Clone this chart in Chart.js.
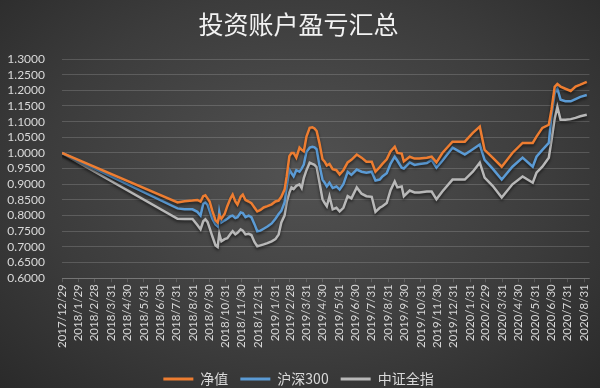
<!DOCTYPE html>
<html>
<head>
<meta charset="utf-8">
<script src="https://cdn.jsdelivr.net/npm/chart.js@4/dist/chart.umd.min.js"></script>
<style>
  html, body { margin: 0; padding: 0; }
  body {
    width: 600px; height: 388px; overflow: hidden;
    background: radial-gradient(ellipse at 50% 45%, #525252 0%, #3c3c3c 60%, #2a2a2a 100%);
  }
  #wrap { width: 600px; height: 388px; }
</style>
</head>
<body>
<div id="wrap"><canvas id="chart" width="600" height="388"></canvas></div>
<script>
// data
var dates = [
  '2017/12/29','2018/8/2','2018/8/15','2018/8/30','2018/9/8','2018/9/14','2018/9/19','2018/9/23','2018/9/27','2018/10/1',
  '2018/10/6','2018/10/12','2018/10/16','2018/10/19','2018/10/23','2018/10/29','2018/11/3','2018/11/9','2018/11/13','2018/11/18',
  '2018/11/22','2018/11/28','2018/12/2','2018/12/7','2018/12/13','2018/12/18','2018/12/24','2018/12/29','2019/1/4','2019/1/10',
  '2019/1/17','2019/1/25','2019/2/1','2019/2/7','2019/2/12','2019/2/18','2019/2/22','2019/2/27','2019/3/3','2019/3/7',
  '2019/3/12','2019/3/18','2019/3/22','2019/3/26','2019/3/31','2019/4/6','2019/4/11','2019/4/15','2019/4/19','2019/4/24',
  '2019/4/30','2019/5/4','2019/5/8','2019/5/13','2019/5/19','2019/5/26','2019/6/1','2019/6/8','2019/6/16','2019/6/23',
  '2019/7/3','2019/7/12','2019/7/21','2019/7/31','2019/8/7','2019/8/15','2019/8/20','2019/8/28','2019/9/4','2019/9/12',
  '2019/9/17','2019/9/25','2019/9/29','2019/10/10','2019/10/19','2019/10/28','2019/11/11','2019/11/20','2019/11/29','2019/12/10',
  '2019/12/29','2020/1/21','2020/2/5','2020/2/18','2020/2/27','2020/3/13','2020/3/30','2020/4/19','2020/5/8','2020/5/27',
  '2020/6/3','2020/6/14','2020/6/26','2020/7/1','2020/7/7','2020/7/12','2020/7/18','2020/7/27','2020/8/6','2020/8/15',
  '2020/8/24','2020/9/5'
];

var navValues = [
  1.000, 0.842, 0.846, 0.848, 0.850, 0.845, 0.862, 0.865, 0.855, 0.845,
  0.815, 0.785, 0.778, 0.800, 0.790, 0.805, 0.830, 0.855, 0.867, 0.845,
  0.835, 0.860, 0.867, 0.850, 0.845, 0.840, 0.825, 0.813, 0.818, 0.826,
  0.830, 0.836, 0.845, 0.848, 0.860, 0.883, 0.925, 0.990, 1.000, 1.000,
  0.985, 1.017, 1.010, 1.005, 1.052, 1.080, 1.082, 1.078, 1.070, 1.033,
  0.980, 0.972, 0.960, 0.965, 0.948, 0.945, 0.931, 0.945, 0.970, 0.978,
  0.995, 0.985, 0.972, 0.972, 0.940, 0.955, 0.965, 0.980, 1.005, 1.020,
  1.000, 0.998, 0.973, 0.988, 0.982, 0.982, 0.985, 0.988, 0.970, 1.000,
  1.036, 1.036, 1.064, 1.084, 1.010, 0.985, 0.956, 1.000, 1.032, 1.032,
  1.052, 1.080, 1.090, 1.138, 1.211, 1.220, 1.212, 1.205, 1.198, 1.212,
  1.218, 1.227
];

var hs300Values = [
  1.000, 0.823, 0.820, 0.820, 0.812, 0.800, 0.838, 0.842, 0.835, 0.815,
  0.790, 0.772, 0.766, 0.812, 0.778, 0.785, 0.790, 0.798, 0.800, 0.792,
  0.795, 0.810, 0.808, 0.795, 0.800, 0.795, 0.772, 0.750, 0.752, 0.758,
  0.765, 0.775, 0.790, 0.805, 0.815, 0.842, 0.893, 0.947, 0.935, 0.925,
  0.945, 0.940, 0.950, 0.963, 1.004, 1.017, 1.020, 1.018, 1.012, 0.963,
  0.915, 0.905, 0.893, 0.905, 0.888, 0.893, 0.883, 0.900, 0.940, 0.930,
  0.947, 0.940, 0.937, 0.940, 0.912, 0.915, 0.925, 0.935, 0.965, 0.988,
  0.975, 0.953, 0.950, 0.970, 0.962, 0.965, 0.968, 0.978, 0.953, 0.975,
  1.017, 0.995, 1.012, 1.027, 0.978, 0.950, 0.915, 0.956, 0.985, 0.956,
  0.988, 1.010, 1.032, 1.120, 1.190, 1.205, 1.170, 1.165, 1.165, 1.172,
  1.179, 1.185
];

var csiValues = [
  1.000, 0.790, 0.789, 0.789, 0.770, 0.756, 0.782, 0.788, 0.780, 0.760,
  0.734, 0.705, 0.700, 0.742, 0.718, 0.725, 0.728, 0.742, 0.750, 0.740,
  0.745, 0.756, 0.752, 0.740, 0.742, 0.738, 0.715, 0.702, 0.705, 0.708,
  0.712, 0.718, 0.725, 0.740, 0.778, 0.800, 0.842, 0.874, 0.890, 0.885,
  0.895, 0.900, 0.888, 0.920, 0.945, 0.969, 0.965, 0.962, 0.955, 0.909,
  0.852, 0.840, 0.830, 0.862, 0.820, 0.825, 0.813, 0.825, 0.862, 0.855,
  0.890, 0.870, 0.862, 0.860, 0.812, 0.825, 0.830, 0.840, 0.880, 0.909,
  0.890, 0.893, 0.862, 0.880, 0.874, 0.874, 0.877, 0.877, 0.852, 0.877,
  0.915, 0.915, 0.940, 0.969, 0.921, 0.895, 0.858, 0.900, 0.925, 0.905,
  0.937, 0.956, 0.985, 1.040, 1.110, 1.147, 1.106, 1.106, 1.108, 1.112,
  1.117, 1.122
];

var tickLabels = [
  '2017/12/29','2018/1/29','2018/2/28','2018/3/31','2018/4/30','2018/5/31','2018/6/30','2018/7/31',
  '2018/8/31','2018/9/30','2018/10/31','2018/11/30','2018/12/31','2019/1/31','2019/2/28','2019/3/31',
  '2019/4/30','2019/5/31','2019/6/30','2019/7/31','2019/8/31','2019/9/30','2019/10/31','2019/11/30',
  '2019/12/31','2020/1/31','2020/2/29','2020/3/31','2020/4/30','2020/5/31','2020/6/30','2020/7/31','2020/8/31'
];

// days since the first date
function dayOf(s) {
  var p = s.split('/');
  return (Date.UTC(+p[0], +p[1] - 1, +p[2]) - Date.UTC(2017, 11, 29)) / 86400000;
}
function points(vals) {
  return vals.map(function (v, i) { return { x: dayOf(dates[i]), y: v }; });
}
var tickDays = tickLabels.map(dayOf);

var textColor = '#d9d9d9';
var gridColor = 'rgba(255,255,255,0.16)';

var lineShadow = {
  id: 'lineShadow',
  beforeDatasetsDraw: function (chart) {
    var ctx = chart.ctx;
    ctx.save();
    ctx.shadowColor = 'rgba(0,0,0,0.55)';
    ctx.shadowBlur = 3;
    ctx.shadowOffsetY = 2;
  },
  afterDatasetsDraw: function (chart) {
    chart.ctx.restore();
  }
};

function series(label, color, vals) {
  return {
    label: label,
    data: points(vals),
    borderColor: color,
    backgroundColor: color,
    borderWidth: 2.5,
    pointRadius: 0,
    tension: 0
  };
}

new Chart(document.getElementById('chart').getContext('2d'), {
  type: 'line',
  data: {
    datasets: [
      series('净值', '#ED7D31', navValues),
      series('沪深300', '#5B9BD5', hs300Values),
      series('中证全指', '#B8B8B8', csiValues)
    ]
  },
  options: {
    responsive: false,
    animation: false,
    layout: { padding: { left: 7, right: 10, top: 0, bottom: -8 } },
    plugins: {
      title: {
        display: true,
        text: '投资账户盈亏汇总',
        color: '#f2f2f2',
        font: { family: '"Noto Sans CJK SC", sans-serif', size: 25, weight: 'normal' },
        padding: { top: 9, bottom: 20 }
      },
      legend: {
        position: 'bottom',
        labels: {
          color: textColor,
          font: { family: '"Noto Sans CJK SC", sans-serif', size: 14 },
          boxWidth: 30,
          boxHeight: 3,
          padding: 12,
          generateLabels: function (chart) {
            return Chart.defaults.plugins.legend.labels.generateLabels(chart).map(function (l) {
              l.lineWidth = 0;
              return l;
            });
          }
        }
      },
      tooltip: { enabled: false }
    },
    scales: {
      x: {
        type: 'linear',
        min: 0,
        max: 986,
        afterBuildTicks: function (scale) {
          scale.ticks = tickDays.map(function (d) { return { value: d }; });
        },
        afterFit: function (scale) {
          scale.height = scale.height + 10;
        },
        ticks: {
          autoSkip: false,
          minRotation: 90,
          maxRotation: 90,
          color: textColor,
          padding: 2,
          font: { family: 'Lato, sans-serif', size: 11.5 },
          callback: function (v, i) { return tickLabels[i]; }
        },
        grid: { drawOnChartArea: false, drawTicks: true, tickLength: 4, color: gridColor },
        border: { color: gridColor }
      },
      y: {
        min: 0.6,
        max: 1.3,
        afterFit: function (scale) {
          scale.width = 55;
        },
        ticks: {
          stepSize: 0.05,
          autoSkip: false,
          color: textColor,
          padding: 17,
          font: { family: 'Lato, sans-serif', size: 12 },
          callback: function (v) { return v.toFixed(4); }
        },
        grid: { color: gridColor, drawTicks: false },
        border: { display: false }
      }
    }
  },
  plugins: [lineShadow]
});
</script>
</body>
</html>
